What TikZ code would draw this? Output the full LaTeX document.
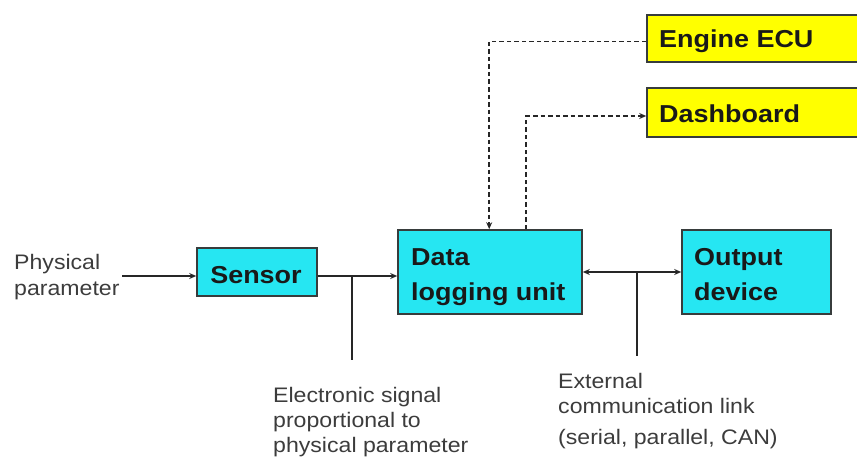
\documentclass[tikz,border=0pt]{standalone}
\usepackage{fontspec}
\setmainfont[FakeStretch=1.1]{Liberation Sans}
\usetikzlibrary{arrows.meta}
\definecolor{cyanbox}{RGB}{38,230,242}
\definecolor{yellowbox}{RGB}{255,255,0}
\definecolor{boxline}{RGB}{55,60,60}
\definecolor{txtgray}{RGB}{60,60,60}
\tikzset{
  cbox/.style={draw=boxline, line width=1.6pt, fill=cyanbox, inner sep=0pt},
  ybox/.style={draw=boxline, line width=1.6pt, fill=yellowbox, inner sep=0pt},
  btext/.style={font=\fontsize{24.5}{28}\selectfont\bfseries, text=black!90, inner sep=0pt, anchor=base west},
  rtext/.style={font=\fontsize{21}{25}\selectfont, text=txtgray, inner sep=0pt, anchor=base west},
  conn/.style={line width=1.7pt, draw=black!85},
  arr/.style={conn, -{Stealth[length=7pt,width=6pt]}},
  darr/.style={line width=1.8pt, draw=black!85, dash pattern=on 4.5pt off 3pt, -{Stealth[length=7pt,width=6pt]}},
}
\begin{document}
\begin{tikzpicture}[x=1pt,y=-1pt]
\useasboundingbox (0,0) rectangle (857,460);
\clip (0,0) rectangle (857,460);
% boxes
\node[ybox, minimum width=230pt, minimum height=47pt] (ecu) at (762,38.5) {};
\node[ybox, minimum width=230pt, minimum height=49pt] (dash) at (762,112.5) {};
\node[cbox, minimum width=120pt, minimum height=48pt] (sensor) at (257,272) {};
\node[cbox, minimum width=184pt, minimum height=84pt] (dlu) at (490,272) {};
\node[cbox, minimum width=149pt, minimum height=84pt] (out) at (756.5,272) {};
% box texts
\node[btext] (ecut) at (659,48) {Engine ECU};
\node[btext] (dasht) at (659,122) {Dashboard};
\node[btext, anchor=base] (sensort) at (256,283) {Sensor};
\node[btext] (dlut1) at (411,265) {Data};
\node[btext] (dlut2) at (411,300) {logging unit};
\node[btext] (outt1) at (694,265) {Output};
\node[btext] (outt2) at (694,300) {device};
% plain texts
\node[rtext] (phys1) at (14,269) {Physical};
\node[rtext] (phys2) at (14,295) {parameter};
\node[rtext] (el1) at (273,402) {Electronic signal};
\node[rtext] (el2) at (273,427) {proportional to};
\node[rtext] (el3) at (273,452) {physical parameter};
\node[rtext] (ex1) at (558,388) {External};
\node[rtext] (ex2) at (558,413) {communication link};
\node[rtext] (ex3) at (558,444) {(serial, parallel, CAN)};
% coordinates
\coordinate (physend) at (122,276);
\coordinate (tapA) at (352,276);
\coordinate (tapAend) at (352,360);
\coordinate (tapB) at (637,272);
\coordinate (tapBend) at (637,356);
% connectors
\draw[arr] (physend) -- ([yshift=-4pt]sensor.west);
\draw[arr] ([yshift=-4pt]sensor.east) -- ([yshift=-4pt]dlu.west);
\draw[conn] (tapA) -- (tapAend);
\draw[conn, {Stealth[length=7pt,width=6pt]}-{Stealth[length=7pt,width=6pt]}] (dlu.east) -- (out.west);
\draw[conn] (tapB) -- (tapBend);
\draw[darr] ([yshift=-3pt]ecu.west) -| ([xshift=92pt]dlu.north west);
\draw[darr] ([xshift=129pt]dlu.north west) |- ([yshift=-3.5pt]dash.west);
\end{tikzpicture}
\end{document}
